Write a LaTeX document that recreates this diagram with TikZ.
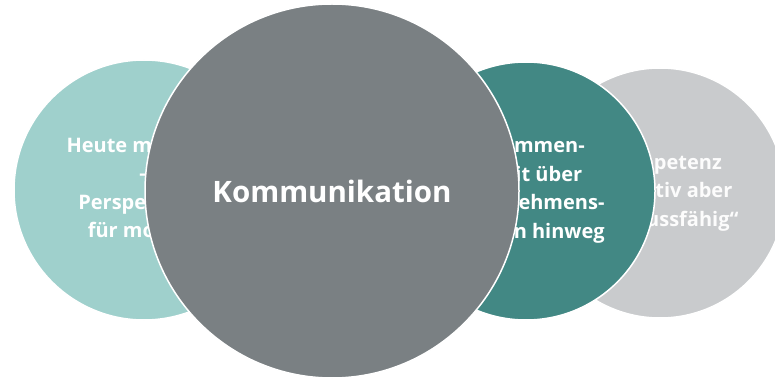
\documentclass[tikz,border=0pt]{standalone}
\usepackage{fontspec}
\setmainfont{Open Sans}
\definecolor{mint}{HTML}{9FD0CC}
\definecolor{slate}{HTML}{7A8083}
\definecolor{petrol}{HTML}{428884}
\definecolor{silver}{HTML}{C9CBCD}
\tikzset{
	bubble/.style 2 args={circle,draw=white,line width=1.5pt,fill=#1,minimum size=#2,inner sep=0pt,align=center,text=white,font=\bfseries\fontsize{20}{28.5}\selectfont}
}
\begin{document}
\begin{tikzpicture}[x=1pt,y=-1pt]
	\useasboundingbox (0,0) rectangle (775,379);
	\node [bubble={silver}{250pt},text=white!95!silver] (kompetenz) at (660,193) {„Kompetenz\\innovativ aber\\anschlussfähig“};
	\node [bubble={petrol}{258pt}] (zusammenarbeit) at (526,191) {Zusammen-\\arbeit über\\Unternehmens-\\grenzen hinweg};
	\node [bubble={mint}{260pt}] (heute) at (144,190) {Heute machbar\\–\\Perspektiven\\für morgen};
	\node [bubble={slate}{374pt},font=\bfseries\fontsize{29.5}{34}\selectfont] (kommunikation) at (332,191) {Kommunikation};
\end{tikzpicture}
\end{document}
